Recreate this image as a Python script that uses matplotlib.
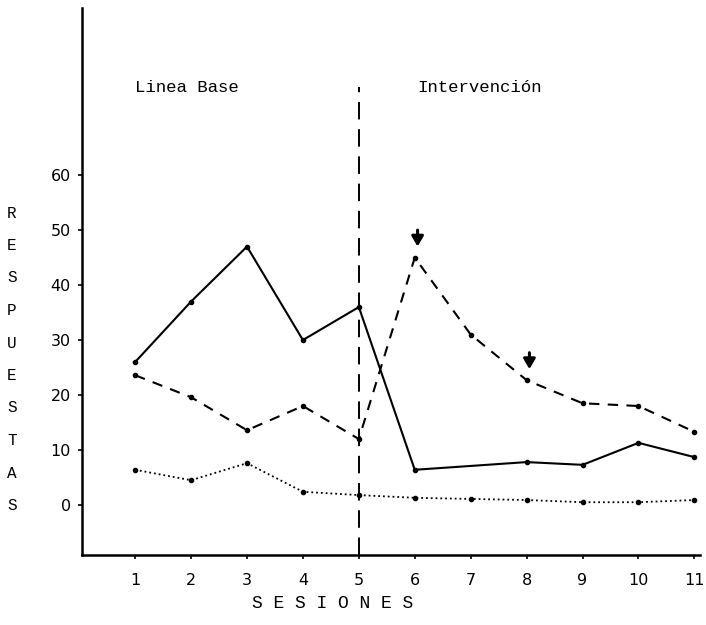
import matplotlib.pyplot as plt

sesiones = [1, 2, 3, 4, 5, 6, 7, 8, 9, 10, 11]
sesiones_solida = [1, 2, 3, 4, 5, 6, 8, 9, 10, 11]
resp_solida = [26, 37, 47, 30, 36, 6.4, 7.8, 7.3, 11.3, 8.7]
resp_guiones = [23.6, 19.6, 13.6, 18, 12, 45, 31, 22.7, 18.5, 18, 13.3]
resp_puntos = [6.4, 4.5, 7.6, 2.4, 1.8, 1.3, 1.1, 0.9, 0.5, 0.5, 0.9]
yticks = [0, 10, 20, 30, 40, 50, 60]
flechas = [6, 8]  # sesiones marcadas con flecha
cambio_fase = 5

mono = 'Liberation Mono'

fig = plt.figure(figsize=(7.06, 6.25), dpi=100)
ax = fig.add_axes([82 / 706, 70 / 625, 618 / 706, 547 / 625])

ax.plot(sesiones_solida, resp_solida, '-', color='black', lw=1.5,
        marker='o', ms=3)
ax.plot(sesiones, resp_guiones, '--', color='black', lw=1.5,
        marker='o', ms=3, dashes=(5, 4))
ax.plot(sesiones, resp_puntos, ':', color='black', lw=1.3,
        marker='o', ms=3)

# linea de cambio de fase
ax.plot([cambio_fase, cambio_fase], [-9.1, 76], color='black',
        lw=1.4, dashes=(9, 5))

for s in flechas:
    v = resp_guiones[sesiones.index(s)]
    ax.annotate('', xy=(s + 0.05, v + 1.5), xytext=(s + 0.05, v + 5.5),
                arrowprops=dict(arrowstyle='-|>,head_width=0.35,head_length=0.6',
                                color='black', lw=2.2))

ax.text(1, 76, 'Linea Base', family=mono, fontsize=12.5, va='center')
ax.text(6.05, 76, 'Intervención', family=mono, fontsize=12.5, va='center')

ax.set_xlim(0.05, 11.1)
ax.set_ylim(-9.1, 90.4)
ax.set_xticks(sesiones)
ax.set_yticks(yticks)
ax.tick_params(axis='both', length=3, width=1.2, labelsize=11.5)
ax.tick_params(axis='x', pad=10)
ax.tick_params(axis='y', pad=5)
for side in ['top', 'right']:
    ax.spines[side].set_visible(False)
ax.spines['left'].set_linewidth(1.8)
ax.spines['bottom'].set_linewidth(1.8)

# etiquetas de ejes escritas a maquina
for i, letra in enumerate('RESPUESTAS'):
    fig.text(12 / 706, 1 - (213 + i * 32.5) / 625, letra, family=mono,
             fontsize=11.5, ha='center', va='center')
fig.text(333 / 706, 1 - 603 / 625, 'S E S I O N E S', family=mono,
         fontsize=13, ha='center', va='center')

fig.savefig('out.png', dpi=100)
